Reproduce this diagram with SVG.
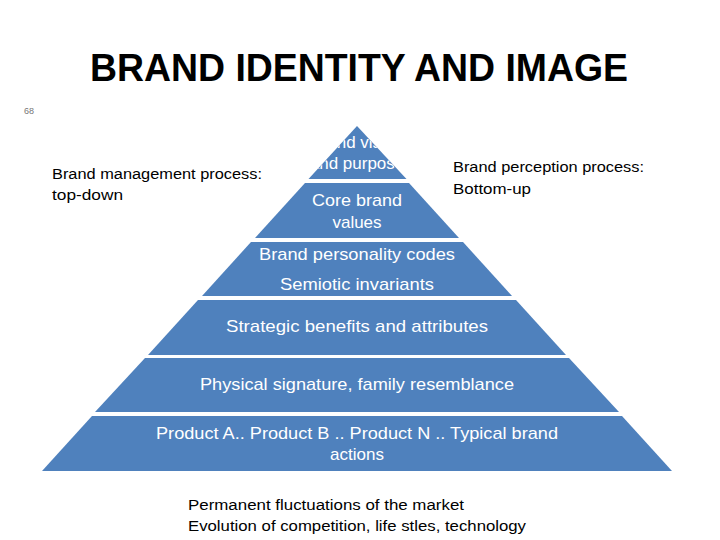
<svg xmlns="http://www.w3.org/2000/svg" width="720" height="540" viewBox="0 0 720 540">
<style>
.band{fill:#4F81BD}
.w{fill:#FFFFFF;font-family:"Liberation Sans",Arial,sans-serif;font-size:17px;text-anchor:middle}
.k{fill:#000000;font-family:"Liberation Sans",Arial,sans-serif;font-size:14px}
.title{fill:#000000;font-family:"Liberation Sans",Arial,sans-serif;font-size:38px;font-weight:bold;text-anchor:middle}
</style>
<defs>
<clipPath id="topclip"><polygon points="357,126 309,179 406,179"/></clipPath>
</defs>
<rect width="720" height="540" fill="#FFFFFF"/>
<text class="title" x="359" y="81" textLength="538" lengthAdjust="spacingAndGlyphs">BRAND IDENTITY AND IMAGE</text>
<text x="24" y="114" font-family="Liberation Sans, Arial, sans-serif" font-size="9" fill="#777777">68</text>
<g id="band1">
<polygon class="band" points="357,126 308.5,179 406.5,179"/>
<g clip-path="url(#topclip)">
<text class="w" x="357" y="148">Brand vision</text>
<text class="w" x="357" y="169">and purpose</text>
</g>
</g>
<g id="band2">
<polygon class="band" points="305,183 409,183 459,238 255,238"/>
<text class="w" x="357" y="206" textLength="90" lengthAdjust="spacingAndGlyphs">Core brand</text>
<text class="w" x="357" y="228">values</text>
</g>
<g id="band3">
<polygon class="band" points="251,242 463,242 512,296 202,296"/>
<text class="w" x="357" y="260" textLength="196" lengthAdjust="spacingAndGlyphs">Brand personality codes</text>
<text class="w" x="357" y="290" textLength="154" lengthAdjust="spacingAndGlyphs">Semiotic invariants</text>
</g>
<g id="band4">
<polygon class="band" points="198,300 516,300 566,355 148,355"/>
<text class="w" x="357" y="332" textLength="262" lengthAdjust="spacingAndGlyphs">Strategic benefits and attributes</text>
</g>
<g id="band5">
<polygon class="band" points="145,358 569,358 619,412 95,412"/>
<text class="w" x="357" y="390" textLength="314" lengthAdjust="spacingAndGlyphs">Physical signature, family resemblance</text>
</g>
<g id="band6">
<polygon class="band" points="92,416 622,416 672,471 42,471"/>
<text class="w" x="357" y="439" textLength="402" lengthAdjust="spacingAndGlyphs">Product A.. Product B .. Product N .. Typical brand</text>
<text class="w" x="357" y="460">actions</text>
</g>
<g id="left-label">
<text class="k" x="52" y="179" textLength="210" lengthAdjust="spacingAndGlyphs">Brand management process:</text>
<text class="k" x="52" y="200" textLength="71" lengthAdjust="spacingAndGlyphs">top-down</text>
</g>
<g id="right-label">
<text class="k" x="453" y="172" textLength="191" lengthAdjust="spacingAndGlyphs">Brand perception process:</text>
<text class="k" x="453" y="194" textLength="78" lengthAdjust="spacingAndGlyphs">Bottom-up</text>
</g>
<g id="bottom-label">
<text class="k" x="188" y="510" textLength="276" lengthAdjust="spacingAndGlyphs">Permanent fluctuations of the market</text>
<text class="k" x="188" y="531" textLength="338" lengthAdjust="spacingAndGlyphs">Evolution of competition, life stles, technology</text>
</g>
<g id="connectors"></g>
</svg>
